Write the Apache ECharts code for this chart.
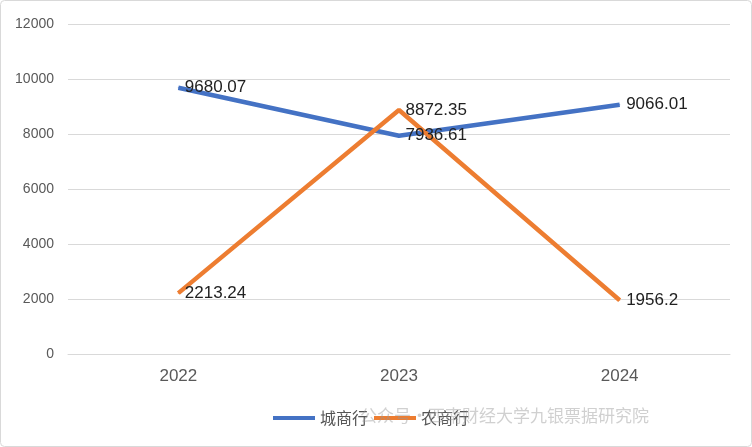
<!DOCTYPE html>
<html><head><meta charset="utf-8">
<script src="https://cdn.jsdelivr.net/npm/echarts@6/dist/echarts.min.js"></script>
<style>html,body{margin:0;padding:0;background:#fff}#c{width:752px;height:447px}</style>
</head><body><div id="c"></div>
<script>
const categories = ['2022','2023','2024'];
const cityBanks = [9680.07, 7936.61, 9066.01];
const ruralBanks = [2213.24, 8872.35, 1956.2];
const seriesNames = ['城商行','农商行'];
const chart = echarts.init(document.getElementById('c'));
const lbl = {show:true, position:'right', distance:6, color:'#222', fontSize:17, fontFamily:'Liberation Sans, Arial',
  formatter:p=>String(p.value)};
chart.setOption({
  animation:false,
  graphic:[
    {type:'rect', shape:{x:0.5,y:0.5,width:751,height:446,r:4}, style:{fill:'none',stroke:'#d9d9d9'}},
    {type:'text', left:360, top:407, z:10, style:{text:'公众号·西南财经大学九银票据研究院', fill:'rgba(150,150,150,0.45)', fontSize:17, fontFamily:'Noto Sans CJK SC'}}
  ],
  grid:{left:68, right:22, top:24, bottom:93},
  legend:{bottom:16, left:268, itemWidth:42, itemHeight:4, itemGap:6, icon:'rect',
    textStyle:{fontSize:16, color:'#555', fontFamily:'Noto Sans CJK SC'}, data:seriesNames},
  xAxis:{type:'category', data:categories, boundaryGap:true,
    axisLine:{lineStyle:{color:'#d9d9d9'}}, axisTick:{show:false},
    axisLabel:{color:'#595959', fontSize:17, margin:14, fontFamily:'Liberation Sans, Arial'}},
  yAxis:{type:'value', min:0, max:12000, interval:2000,
    axisLine:{show:false}, axisTick:{show:false},
    splitLine:{lineStyle:{color:'#d9d9d9'}},
    axisLabel:{color:'#595959', fontSize:14, margin:14, fontFamily:'Liberation Sans, Arial', formatter:v=>String(v)}},
  series:[
    {name:seriesNames[0], type:'line', data:cityBanks, symbol:'circle', symbolSize:1, showSymbol:true, lineStyle:{width:4.5,color:'#4472C4'}, itemStyle:{color:'#4472C4'}, label:lbl},
    {name:seriesNames[1], type:'line', data:ruralBanks, symbol:'circle', symbolSize:1, showSymbol:true, lineStyle:{width:4.5,color:'#ED7D31'}, itemStyle:{color:'#ED7D31'}, label:lbl}
  ]
});
</script></body></html>
